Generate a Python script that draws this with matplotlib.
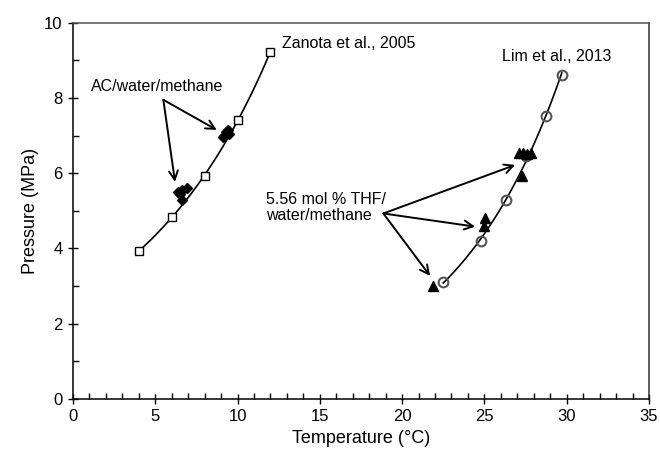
import numpy as np
import matplotlib.pyplot as plt
from matplotlib.ticker import MultipleLocator

plt.rcParams['font.family'] = ['Liberation Sans', 'DejaVu Sans']

# Zanota et al., 2005
t_zan = [4, 6, 8, 10, 12]
p_zan = [3.93, 4.83, 5.93, 7.42, 9.22]

# AC/water/methane
t_ac = [6.4, 6.6, 6.9, 6.6, 6.5, 9.1, 9.2, 9.3, 9.4, 9.5]
p_ac = [5.5, 5.55, 5.62, 5.3, 5.45, 6.95, 7.0, 7.1, 7.15, 7.05]

# Lim et al., 2013
t_lim = [22.5, 24.8, 26.3, 27.55, 28.75, 29.7]
p_lim = [3.1, 4.2, 5.3, 6.45, 7.52, 8.62]

# 5.56 mol % THF/water/methane
t_thf = [21.85, 25.0, 25.05, 27.3, 27.1, 27.35, 27.6, 27.85]
p_thf = [3.0, 4.6, 4.8, 5.92, 6.55, 6.55, 6.5, 6.55]

fig = plt.figure(figsize=(6.6, 4.61), dpi=100)
ax = fig.add_axes([0.1106, 0.1345, 0.8727, 0.8163])

# lissage des courbes
for t, p in [(t_zan, p_zan), (t_lim, p_lim)]:
    c = np.polyfit(t, np.log(p), 2)
    tt = np.linspace(min(t), max(t), 100)
    ax.plot(tt, np.exp(np.polyval(c, tt)), color='black', lw=1.2, zorder=2)

ax.plot(t_zan, p_zan, 's', ms=5.5, mfc='white', mec='black', mew=1.0, zorder=3)
ax.plot(t_lim, p_lim, 'o', ms=7, mfc='none', mec='#555555', mew=1.5, zorder=3)
ax.plot(t_ac, p_ac, 'D', ms=5.5, color='black', zorder=4)
ax.plot(t_thf, p_thf, '^', ms=6.5, color='black', zorder=4)

fs = 11.5
ax.text(12.69, 9.46, 'Zanota et al., 2005', fontsize=fs, va='center', ha='left')
ax.text(29.4, 9.09, 'Lim et al., 2013', fontsize=fs, va='center', ha='center')
ax.text(1.08, 8.30, 'AC/water/methane', fontsize=fs, va='center', ha='left')
ax.text(11.73, 5.09, '5.56 mol % THF/\nwater/methane', fontsize=fs, va='center', ha='left',
        linespacing=1.1)

arr = dict(arrowstyle='->', color='black', lw=1.4, mutation_scale=16, shrinkA=0, shrinkB=0)
for tip in [(8.74, 7.15), (6.2, 5.77)]:
    ax.annotate('', xy=tip, xytext=(5.49, 7.95), arrowprops=arr)
for tip in [(21.7, 3.27), (24.44, 4.58), (26.87, 6.22)]:
    ax.annotate('', xy=tip, xytext=(18.86, 4.93), arrowprops=arr)

ax.set_xlim(0, 35)
ax.set_ylim(0, 10)
ax.xaxis.set_major_locator(MultipleLocator(5))
ax.xaxis.set_minor_locator(MultipleLocator(1))
ax.yaxis.set_major_locator(MultipleLocator(2))
ax.yaxis.set_minor_locator(MultipleLocator(1))
ax.tick_params(which='major', direction='inout', length=7, width=1, labelsize=12, pad=4)
ax.tick_params(which='minor', direction='in', length=4, width=1)
for s in ax.spines.values():
    s.set_linewidth(1.1)
ax.spines['top'].set_color('#555555')
ax.spines['right'].set_color('#333333')

ax.set_xlabel('Temperature (°C)', fontsize=13)
ax.set_ylabel('Pressure (MPa)', fontsize=13)

plt.savefig('out.png', dpi=100)
